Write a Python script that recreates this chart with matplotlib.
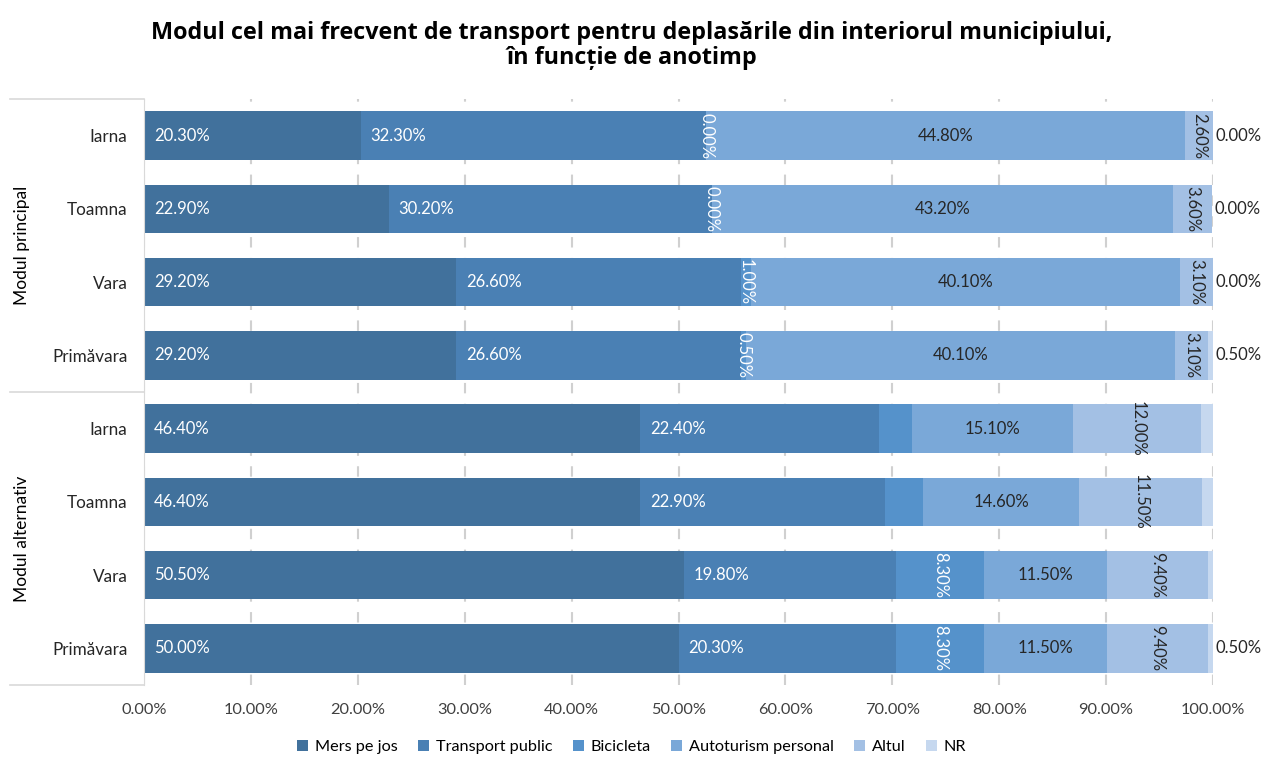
import matplotlib
matplotlib.use("Agg")
import matplotlib.pyplot as plt
import numpy as np

plt.rcParams["font.family"] = ["Lato", "DejaVu Sans"]

# rows from top to bottom
row_labels = ["Iarna", "Toamna", "Vara", "Primăvara",
              "Iarna", "Toamna", "Vara", "Primăvara"]
group_labels = ["Modul principal", "Modul alternativ"]

series_names = ["Mers pe jos", "Transport public", "Bicicleta",
                "Autoturism personal", "Altul", "NR"]
mers = [20.3, 22.9, 29.2, 29.2, 46.4, 46.4, 50.5, 50.0]
transport = [32.3, 30.2, 26.6, 26.6, 22.4, 22.9, 19.8, 20.3]
bicicleta = [0.0, 0.0, 1.0, 0.5, 3.0, 3.6, 8.3, 8.3]
autoturism = [44.8, 43.2, 40.1, 40.1, 15.1, 14.6, 11.5, 11.5]
altul = [2.6, 3.6, 3.1, 3.1, 12.0, 11.5, 9.4, 9.4]
nr = [0.0, 0.0, 0.0, 0.5, 1.1, 1.0, 0.5, 0.5]

# which segments carry a label (the original chart hides some)
show_bicicleta = [True, True, True, True, False, False, True, True]
show_nr = [True, True, True, True, False, False, False, True]

colors = ["#41719C", "#4A80B4", "#5592CB", "#7AA8D8", "#A3C0E4", "#C6D8EF"]
dark = "#262626"

fig = plt.figure(figsize=(12.63, 7.57), dpi=100)
ax = fig.add_axes([144 / 1263, 1 - 685 / 757, (1213 - 144) / 1263, (685 - 99) / 757])

y = np.arange(len(row_labels))
data = [mers, transport, bicicleta, autoturism, altul, nr]
left = np.zeros(len(row_labels))
for vals, col, name in zip(data, colors, series_names):
    ax.barh(y, vals, left=left, height=0.66, color=col, label=name, zorder=2)
    left += np.array(vals)

fs = 12
starts = np.cumsum([np.zeros(len(y))] + [np.array(v) for v in data], axis=0)
for i in range(len(y)):
    # inside base labels
    for k in (0, 1):
        ax.annotate(f"{data[k][i]:.2f}%", (starts[k][i], y[i]), xytext=(7, 0),
                    textcoords="offset points", ha="left", va="center",
                    color="white", fontsize=fs, zorder=3)
    if show_bicicleta[i]:
        ax.text(starts[2][i] + bicicleta[i] / 2, y[i], f"{bicicleta[i]:.2f}%",
                rotation=270, ha="center", va="center", color="white", fontsize=fs, zorder=3)
    ax.text(starts[3][i] + autoturism[i] / 2, y[i], f"{autoturism[i]:.2f}%",
            ha="center", va="center", color=dark, fontsize=fs, zorder=3)
    ax.text(starts[4][i] + altul[i] / 2, y[i], f"{altul[i]:.2f}%",
            rotation=270, ha="center", va="center", color=dark, fontsize=fs, zorder=3)
    if show_nr[i]:
        ax.annotate(f"{nr[i]:.2f}%", (starts[6][i], y[i]), xytext=(2, 0),
                    textcoords="offset points", ha="left", va="center",
                    color=dark, fontsize=fs, zorder=3, annotation_clip=False)

ax.set_xlim(0, 100)
ax.set_ylim(len(y) - 0.5, -0.5)
ax.set_xticks(np.arange(0, 101, 10))
ax.set_xticklabels([f"{v:.2f}%" for v in np.arange(0, 101, 10)], fontsize=11.8, color="#404040")
ax.set_yticks(y)
ax.set_yticklabels(row_labels, fontsize=12.3, color=dark)
ax.tick_params(axis="both", length=0)
ax.tick_params(axis="y", pad=12)
ax.tick_params(axis="x", pad=13)
ax.grid(axis="x", color="#D0D0D0", linestyle=(0, (5, 5)), linewidth=1.5, zorder=0)
ax.set_axisbelow(True)
for side in ("top", "right", "bottom"):
    ax.spines[side].set_visible(False)
ax.spines["left"].set_color("#D9D9D9")

# group separators on the left
x0 = (10 - 144) / (1213 - 144)
for yy in (0.0, 0.5, 1.0):
    ax.plot([x0, 0], [yy, yy], transform=ax.transAxes, color="#D9D9D9",
            linewidth=1.2, clip_on=False)
for j, g in enumerate(group_labels):
    ax.text((22 - 144) / (1213 - 144), 0.75 - 0.5 * j, g, transform=ax.transAxes,
            rotation=90, ha="center", va="center", fontsize=12.5, color="black")

fig.text(0.5, 1 - 45.5 / 757,
         "Modul cel mai frecvent de transport pentru deplasările din interiorul municipiului,\n"
         "în funcție de anotimp", ha="center", va="center", fontsize=16.8, fontweight="bold",
         family=["Open Sans", "DejaVu Sans"], linespacing=1.05)

fig.legend(loc="center", bbox_to_anchor=(0.5, 1 - 747 / 757), ncol=6, frameon=False,
           fontsize=11.7, handlelength=0.7, handleheight=0.7, columnspacing=1.25,
           handletextpad=0.4)

fig.savefig("out.png", dpi=100)
